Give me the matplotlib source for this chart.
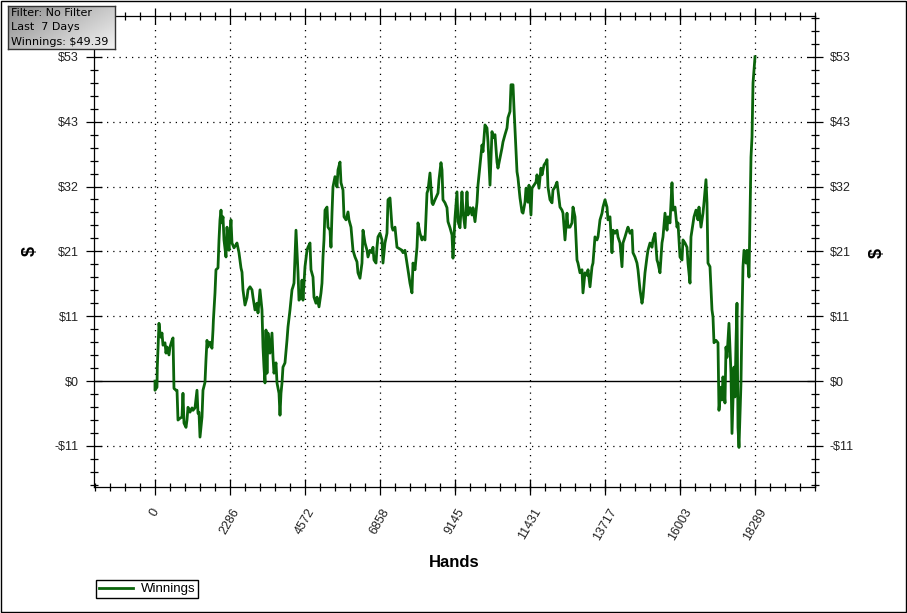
import matplotlib.pyplot as plt
import numpy as np
from matplotlib.patches import Rectangle
from matplotlib.ticker import FixedLocator, MultipleLocator

plt.rcParams['font.family'] = ['Liberation Sans', 'DejaVu Sans']

# cumulative winnings (hands, dollars)
hands = [0, 0, 61, 70, 122, 152, 183, 213, 244, 305, 335, 366, 427, 457, 518, 549, 560, 579, 640, 671,
         701, 762, 823, 853, 884, 945, 975, 1006, 1067, 1128, 1158, 1219, 1280, 1311, 1341, 1372, 1433, 1463, 1524, 1554,
         1585, 1615, 1676, 1737, 1768, 1780, 1829, 1859, 1920, 1951, 1981, 2012, 2042, 2073, 2103, 2164, 2195, 2225, 2256, 2316,
         2347, 2408, 2469, 2499, 2560, 2621, 2652, 2682, 2743, 2804, 2835, 2896, 2957, 2987, 3048, 3109, 3140, 3200, 3261, 3292,
         3322, 3353, 3383, 3414, 3444, 3505, 3566, 3597, 3627, 3688, 3719, 3780, 3810, 3840, 3871, 3901, 3962, 4023, 4054, 4115,
         4176, 4206, 4237, 4298, 4359, 4389, 4450, 4481, 4511, 4572, 4633, 4663, 4724, 4755, 4816, 4846, 4907, 4938, 4999, 5060,
         5090, 5121, 5151, 5182, 5243, 5273, 5334, 5364, 5395, 5425, 5486, 5547, 5578, 5639, 5669, 5730, 5761, 5822, 5883, 5913,
         5974, 6035, 6096, 6157, 6187, 6248, 6309, 6340, 6401, 6462, 6492, 6553, 6614, 6644, 6675, 6736, 6766, 6797, 6858, 6919,
         6949, 7010, 7071, 7102, 7163, 7224, 7254, 7315, 7376, 7406, 7529, 7559, 7620, 7681, 7711, 7772, 7833, 7864, 7925, 7986,
         8016, 8077, 8138, 8169, 8230, 8291, 8321, 8382, 8443, 8473, 8534, 8626, 8656, 8717, 8748, 8778, 8839, 8900, 8931, 8992,
         9053, 9083, 9144, 9205, 9235, 9296, 9357, 9388, 9449, 9510, 9540, 9601, 9662, 9692, 9754, 9815, 9845, 9906, 9967, 9997,
         10058, 10119, 10150, 10211, 10272, 10302, 10363, 10424, 10454, 10516, 10576, 10607, 10668, 10729, 10759, 10820, 10851, 10912, 10942, 11003,
         11034, 11064, 11125, 11186, 11217, 11278, 11308, 11369, 11400, 11460, 11491, 11552, 11613, 11643, 11704, 11765, 11796, 11857, 11918, 11948,
         11978, 12040, 12101, 12131, 12192, 12253, 12283, 12344, 12405, 12436, 12497, 12558, 12588, 12649, 12710, 12741, 12802, 12863, 12893, 12954,
         13015, 13045, 13106, 13167, 13198, 13259, 13320, 13350, 13411, 13472, 13503, 13564, 13625, 13655, 13716, 13777, 13807, 13868, 13929, 13960,
         14021, 14082, 14112, 14173, 14234, 14265, 14326, 14386, 14417, 14478, 14539, 14569, 14630, 14691, 14722, 14783, 14844, 14874, 14935, 14996,
         15026, 15088, 15149, 15179, 15240, 15301, 15331, 15392, 15453, 15484, 15545, 15606, 15636, 15697, 15758, 15789, 15850, 15911, 15941, 16002,
         16063, 16093, 16154, 16215, 16246, 16307, 16337, 16368, 16429, 16490, 16550, 16581, 16642, 16703, 16733, 16794, 16825, 16855, 16916, 16977,
         17008, 17038, 17099, 17160, 17190, 17251, 17282, 17312, 17373, 17404, 17434, 17495, 17556, 17587, 17617, 17648, 17678, 17709, 17739, 17770,
         17800, 17861, 17892, 17922, 17953, 18014, 18044, 18105, 18136, 18166, 18197, 18228, 18289]
winnings = [0.0, -1.5, -1.0, 2.3, 9.5, 7.9, 7.2, 7.9, 5.9, 6.3, 4.6, 5.6, 4.3, 5.6, 6.7, 7.1, 3.9, -1.2, -1.5, -1.5,
            -6.4, -6.1, -5.9, -2.0, -6.9, -7.6, -6.4, -4.3, -5.1, -4.4, -4.8, -4.4, -1.5, -5.3, -5.1, -9.2, -5.9, -1.5, -0.2, 3.5,
            6.7, 5.6, 6.4, 5.4, 8.4, 10.0, 14.5, 18.3, 18.6, 23.2, 26.5, 28.1, 26.0, 27.0, 23.2, 20.4, 25.3, 23.2, 21.5, 26.5,
            22.7, 21.9, 22.4, 22.7, 21.1, 18.6, 17.9, 15.0, 12.5, 13.7, 15.0, 15.5, 15.0, 13.8, 11.7, 12.8, 11.2, 15.0, 11.7, 5.6,
            2.3, -0.3, 8.4, 1.3, 7.9, 4.6, 7.9, 3.9, 1.3, 3.0, -0.3, -2.0, -5.6, -2.0, -0.3, 2.3, 3.0, 6.7, 8.9, 11.7,
            15.0, 15.5, 16.1, 24.8, 17.8, 13.3, 13.8, 16.6, 13.3, 18.8, 21.5, 22.0, 22.7, 18.3, 17.1, 13.8, 12.8, 13.8, 12.2, 14.5,
            16.1, 20.4, 23.2, 28.1, 28.6, 25.3, 24.8, 22.0, 27.6, 31.9, 33.6, 31.9, 34.7, 36.0, 32.6, 31.4, 27.0, 26.5, 27.8, 26.5,
            25.3, 21.5, 20.4, 19.6, 17.8, 16.9, 19.4, 24.8, 22.7, 21.5, 20.4, 21.5, 21.1, 22.0, 19.9, 19.4, 22.0, 23.7, 24.3, 23.2,
            19.4, 22.7, 24.3, 29.8, 30.1, 25.3, 24.8, 25.3, 22.0, 21.9, 21.5, 21.1, 21.5, 19.4, 18.3, 16.1, 14.5, 19.4, 18.3, 22.0,
            26.0, 24.3, 23.2, 23.7, 23.2, 30.9, 31.4, 34.2, 29.3, 29.0, 29.8, 30.9, 33.1, 35.9, 34.7, 29.8, 29.3, 28.5, 26.2, 25.2,
            24.0, 20.2, 26.8, 31.1, 26.2, 25.2, 31.1, 27.8, 25.2, 31.1, 27.3, 28.5, 27.3, 28.5, 26.2, 29.4, 32.2, 35.5, 38.8, 37.7,
            42.1, 41.6, 39.3, 32.2, 41.0, 40.0, 40.5, 36.0, 35.0, 36.7, 38.3, 39.3, 40.5, 41.6, 43.3, 44.3, 48.7, 48.7, 44.9, 37.7,
            34.4, 33.4, 30.1, 27.8, 27.6, 29.4, 31.7, 29.4, 32.2, 27.3, 31.7, 32.2, 32.7, 33.9, 31.7, 35.0, 33.9, 35.5, 36.0, 36.4,
            31.9, 29.8, 29.3, 31.4, 31.9, 32.7, 31.4, 28.6, 28.1, 27.6, 23.2, 27.6, 25.3, 25.3, 26.0, 28.6, 27.0, 19.9, 19.4, 17.8,
            18.3, 14.5, 17.8, 17.4, 18.3, 15.5, 18.8, 19.4, 23.7, 23.2, 23.7, 26.5, 27.6, 28.6, 29.8, 28.6, 26.5, 27.0, 21.1, 24.8,
            24.3, 24.8, 23.7, 22.7, 18.8, 22.7, 23.7, 24.8, 25.3, 24.3, 24.8, 21.1, 20.4, 19.4, 18.3, 15.0, 12.8, 13.8, 17.8, 20.4,
            21.5, 22.7, 22.0, 23.2, 24.3, 19.9, 19.4, 17.8, 22.7, 23.7, 27.6, 24.8, 27.0, 26.0, 32.6, 28.1, 28.6, 25.3, 26.0, 20.4,
            19.9, 23.2, 22.7, 22.0, 19.4, 16.1, 23.7, 24.8, 27.0, 28.1, 26.5, 28.6, 25.3, 27.6, 29.3, 33.1, 29.3, 19.4, 18.8, 11.7,
            10.5, 6.3, 6.7, 6.3, -4.8, -1.0, -3.1, 0.7, -3.6, 5.6, 3.9, 9.5, 1.3, -8.6, -3.1, 2.3, -2.6, 6.3, 12.8, -7.6,
            -10.9, -0.3, 10.5, 18.8, 21.5, 19.4, 21.5, 17.1, 27.6, 36.8, 40.1, 49.0, 53.3]

x_ticks = [0, 2286, 4572, 6858, 9145, 11431, 13717, 16003, 18289]
y_ticks = [-10.66, 0, 10.66, 21.32, 31.98, 42.64, 53.3]
y_labels = ['-$11', '$0', '$11', '$21', '$32', '$43', '$53']
info_lines = ['Filter: No Filter', 'Last  7 Days', 'Winnings: $49.39']

fig = plt.figure(figsize=(9.07, 6.13), dpi=100)
ax = fig.add_axes([94 / 907, 1 - 487 / 613, 721 / 907, 471 / 613])

ax.axhline(0, color='black', lw=1, zorder=2)
ax.plot(hands, winnings, color='#0b640b', lw=2.0, label='Winnings', zorder=3)

ax.set_xlim(-1859, 20117)
ax.set_ylim(-17.4, 60.0)

ax.xaxis.set_major_locator(FixedLocator(x_ticks))
ax.xaxis.set_minor_locator(MultipleLocator(2286 / 5))
ax.set_xticks(x_ticks)
ax.set_xticklabels([str(t) for t in x_ticks], rotation=60, ha='center', va='top')
ax.set_yticks(y_ticks)
ax.set_yticklabels(y_labels)
ax.yaxis.set_minor_locator(MultipleLocator(10.66 / 5))

ax.tick_params(which='major', direction='inout', length=11.5, width=0.9, color='black',
               top=True, right=True, labelright=True, labelsize=9, pad=5)
ax.tick_params(which='minor', direction='inout', length=5.5, width=0.9, top=True, right=True)
ax.tick_params(axis='x', which='major', pad=8)
for lbl in ax.get_yticklabels() + ax.get_xticklabels():
    lbl.set_color('#222222')

for t in x_ticks:
    ax.axvline(t, color='black', lw=0.9, linestyle=(0, (1, 4)), zorder=1)
for t in y_ticks:
    if t != 0:
        ax.axhline(t, color='black', lw=0.9, linestyle=(0, (1, 4)), zorder=1)

for s in ax.spines.values():
    s.set_linewidth(0.9)

ax.set_xlabel('Hands', fontsize=12, fontweight='bold', labelpad=9)
ax.set_ylabel('$', fontsize=13, fontweight='bold', labelpad=12)
fig.text(877 / 907, 1 - 253 / 613, '$', fontsize=13, fontweight='bold', rotation=90,
         ha='center', va='center')

fig.legend(loc='lower left', bbox_to_anchor=(96 / 907, 1 - 598 / 613), fontsize=9.5,
           frameon=True, fancybox=False, edgecolor='black', framealpha=1,
           handlelength=2.6, handletextpad=0.6, borderpad=0.2, borderaxespad=0)

# info box with grey gradient
box = fig.add_axes([8 / 907, 1 - 49 / 613, 107 / 907, 43 / 613])
grad = np.linspace(0, 1, 100)
gx, gy = np.meshgrid(grad, grad)
box.imshow(0.55 + 0.4 * (0.6 * gx + 0.4 * gy), cmap='gray', vmin=0, vmax=1,
           aspect='auto', extent=[0, 1, 0, 1], origin='upper')
box.set_xticks([])
box.set_yticks([])
for s in box.spines.values():
    s.set_linewidth(1)
    s.set_color('#333333')
for i, line in enumerate(info_lines):
    box.text(0.03, 0.83 - i * 0.33, line, fontsize=8, family='DejaVu Sans',
             va='center', ha='left', transform=box.transAxes)

fig.patches.append(Rectangle((0.0008, 0.0012), 0.998, 0.997, transform=fig.transFigure,
                             fill=False, edgecolor='black', lw=1))

fig.savefig('out.png', dpi=100)
